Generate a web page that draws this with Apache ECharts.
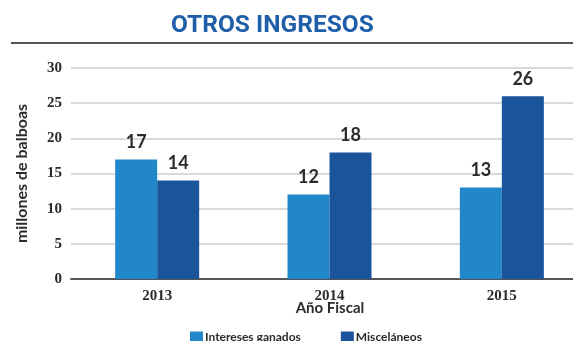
<!DOCTYPE html>
<html>
<head>
<meta charset="utf-8">
<script src="https://cdn.jsdelivr.net/npm/echarts@6/dist/echarts.min.js"></script>
<style>
  html, body { margin: 0; padding: 0; background: #ffffff; }
  #chart { width: 573px; height: 341px; }
</style>
</head>
<body>
<div id="chart"></div>
<script>
// Fiscal years on the category axis
const years = ['2013', '2014', '2015'];
// Series values, millions of balboas
const interesesGanados = [17, 12, 13];
const miscelaneos = [14, 18, 26];
// Y axis range
const yMin = 0;
const yMax = 30;
const yStep = 5;

const chart = echarts.init(document.getElementById('chart'), null, { renderer: 'canvas' });

const valueLabel = {
  show: true,
  position: 'top',
  distance: 8,
  fontFamily: 'Lato',
  fontWeight: 'bold',
  fontSize: 18,
  color: '#2b2b2b'
};

chart.setOption({
  backgroundColor: '#ffffff',
  animation: false,
  title: {
    text: 'OTROS INGRESOS',
    left: 166,
    top: 8,
    textStyle: {
      fontFamily: 'Roboto',
      fontWeight: 'bold',
      fontSize: 24.5,
      color: '#1f5ea8'
    }
  },
  graphic: [
    {
      type: 'line',
      shape: { x1: 11, y1: 43, x2: 573, y2: 43 },
      style: { stroke: '#555555', lineWidth: 2 }
    },
    {
      type: 'text',
      x: 330,
      y: 301,
      style: {
        text: 'Año Fiscal',
        align: 'center',
        fontFamily: 'Lato',
        fontWeight: 'bold',
        fontSize: 15,
        fill: '#2b2b2b'
      }
    }
  ],
  legend: {
    left: 185,
    top: 326,
    itemWidth: 13,
    itemHeight: 11,
    itemGap: 40,
    icon: 'rect',
    textStyle: {
      fontFamily: 'Lato',
      fontWeight: 'bold',
      fontSize: 12,
      color: '#2b2b2b',
      padding: [0, 0, 0, -3]
    },
    data: ['Intereses ganados', 'Misceláneos']
  },
  grid: {
    left: 71,
    right: -15,
    top: 68,
    bottom: 62,
    containLabel: false,
    outerBoundsMode: 'none'
  },
  xAxis: {
    type: 'category',
    data: years,
    axisTick: { show: false },
    axisLine: { show: true, lineStyle: { color: '#555555', width: 2 } },
    axisLabel: {
      margin: 10,
      fontFamily: 'Liberation Serif',
      fontWeight: 'bold',
      fontSize: 15,
      color: '#2b2b2b'
    }
  },
  yAxis: {
    type: 'value',
    min: yMin,
    max: yMax,
    interval: yStep,
    name: 'millones de balboas',
    nameLocation: 'middle',
    nameRotate: 90,
    nameGap: 41,
    nameTextStyle: {
      fontFamily: 'Lato',
      fontWeight: 'bold',
      fontSize: 16,
      color: '#2b2b2b'
    },
    axisLine: { show: false },
    axisTick: { show: false },
    axisLabel: {
      margin: 9,
      fontFamily: 'Liberation Serif',
      fontWeight: 'bold',
      fontSize: 15,
      color: '#2b2b2b'
    },
    splitLine: { show: true, lineStyle: { color: '#cccccc', width: 1.5 } }
  },
  series: [
    {
      name: 'Intereses ganados',
      type: 'bar',
      data: interesesGanados,
      barWidth: 42,
      barGap: '0%',
      itemStyle: { color: '#2287c8' },
      label: valueLabel
    },
    {
      name: 'Misceláneos',
      type: 'bar',
      data: miscelaneos,
      barWidth: 42,
      barGap: '0%',
      itemStyle: { color: '#1a559c' },
      label: valueLabel
    }
  ]
});
</script>
</body>
</html>
